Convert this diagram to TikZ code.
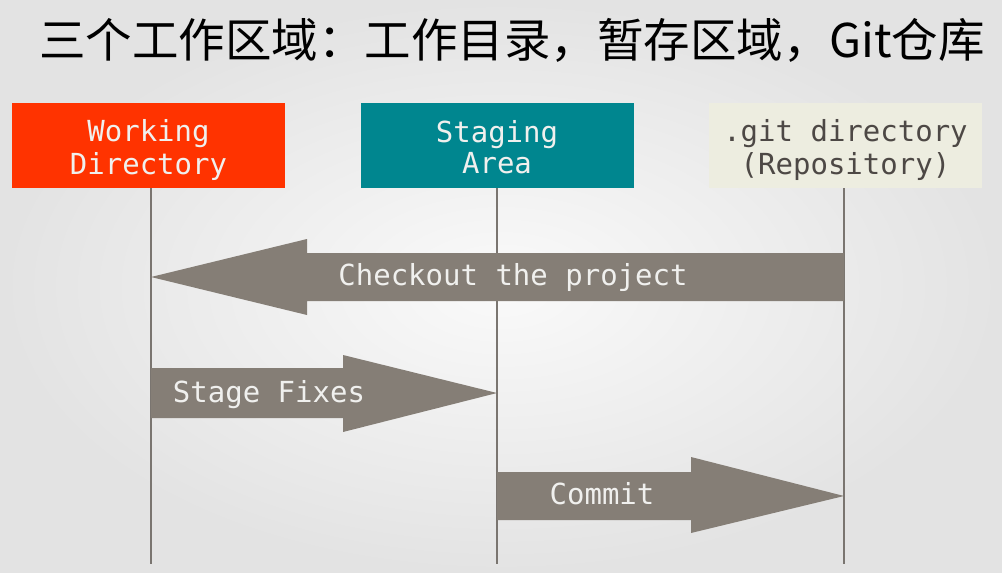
\documentclass[tikz,border=0pt]{standalone}
\usepackage{fontspec}
\usepackage{tikz}
\usetikzlibrary{positioning}
\newfontfamily\monofont{DejaVu Sans Mono}
\newfontfamily\cjkfont{Noto Sans CJK SC}
\definecolor{wdred}{RGB}{255,51,0}
\definecolor{stageteal}{RGB}{0,134,143}
\definecolor{repobeige}{RGB}{237,237,224}
\definecolor{repotext}{RGB}{77,72,69}
\definecolor{flowgray}{RGB}{133,126,118}
\definecolor{linegray}{RGB}{122,117,112}
\definecolor{labelwhite}{RGB}{240,240,238}

\begin{document}
\begin{tikzpicture}[
  x=1pt, y=-1pt,
  area/.style={minimum width=273pt, minimum height=85pt, inner sep=0pt},
  areatext/.style={inner sep=0pt, align=center, font=\monofont\fontsize{29}{31}\selectfont},
  lifeline/.style={draw=linegray, line width=1.6pt},
  flow/.style={fill=flowgray},
  flowtext/.style={text=labelwhite, anchor=base, font=\monofont\fontsize{29}{31}\selectfont, inner sep=0pt}
]
\useasboundingbox (0,0) rectangle (1002,573);
\shade[inner color=gray!4, outer color=gray!22] (0,0) rectangle (1002,573);

%% Title
\node[font=\cjkfont\fontsize{46.5}{50}\selectfont, inner sep=0pt] (title) at (512,40) {三个工作区域：工作目录，暂存区域，Git仓库};

%% The three areas
\node[area, fill=wdred] (wd) at (148.5,145.5) {};
\node[areatext, text=labelwhite] (wdtext) at ([yshift=-6pt]wd.center) {\strut Working\\Directory\strut};
\node[area, fill=stageteal] (sa) at (497,145.5) {};
\node[areatext, text=labelwhite] (satext) at ([yshift=-6pt]sa.center) {\strut Staging\\Area\strut};
\node[area, fill=repobeige] (git) at (845.5,145.5) {};
\node[areatext, text=repotext] (gittext) at ([yshift=-6pt]git.center) {\strut .git directory\\(Repository)\strut};

%% Lifelines
\coordinate (wdend) at (151,564);
\coordinate (saend) at (497,564);
\coordinate (gitend) at (844,564);
\draw[lifeline] (wd.south -| wdend) -- (wdend);
\draw[lifeline] (sa.south -| saend) -- (saend);
\draw[lifeline] (git.south -| gitend) -- (gitend);

%% Checkout the project
\fill[flow] (151,277) -- (307,239) -- (307,253) -- (844,253) -- (844,301) -- (307,301) -- (307,315) -- cycle;
\node[flowtext] (checkout) at (513,285) {Checkout the project};

%% Stage Fixes
\fill[flow] (151,368) -- (343,368) -- (343,355) -- (497,393) -- (343,432) -- (343,418) -- (151,418) -- cycle;
\node[flowtext] (stage) at (269,402) {Stage Fixes};

%% Commit
\fill[flow] (497,472) -- (691,472) -- (691,457) -- (844,496) -- (691,533) -- (691,520) -- (497,520) -- cycle;
\node[flowtext] (commit) at (602,504) {Commit};
\end{tikzpicture}
\end{document}
